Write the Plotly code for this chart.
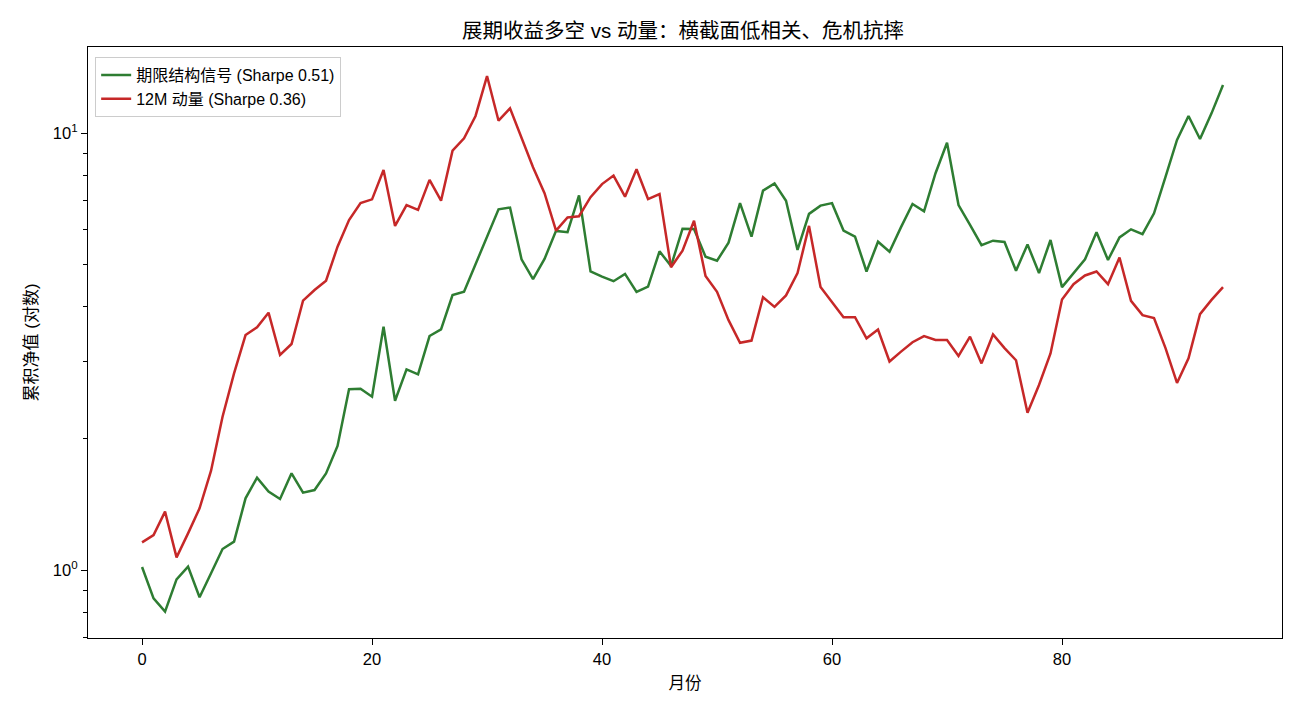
import plotly.graph_objects as go

months = list(range(95))

term_structure = [1.016, 0.861, 0.803, 0.952, 1.018, 0.866, 0.983, 1.117, 1.161, 1.459,
                  1.627, 1.511, 1.454, 1.664, 1.503, 1.524, 1.664, 1.922, 2.592, 2.60,
                  2.492, 3.604, 2.440, 2.879, 2.804, 3.431, 3.554, 4.259, 4.333, 5.014,
                  5.760, 6.69, 6.75, 5.14, 4.63, 5.15, 5.97, 5.93, 7.20, 4.82,
                  4.69, 4.58, 4.76, 4.33, 4.45, 5.36, 4.96, 6.04, 6.03, 5.21,
                  5.10, 5.61, 6.91, 5.79, 7.38, 7.67, 7.00, 5.40, 6.53, 6.82,
                  6.91, 5.98, 5.79, 4.82, 5.64, 5.35, 6.09, 6.88, 6.62, 8.09,
                  9.50, 6.84, 6.16, 5.54, 5.67, 5.63, 4.84, 5.56, 4.78, 5.69,
                  4.44, 4.78, 5.14, 5.93, 5.12, 5.77, 6.02, 5.87, 6.55, 7.94,
                  9.64, 10.94, 9.69, 11.09, 12.88]

momentum = [1.157, 1.202, 1.360, 1.069, 1.213, 1.384, 1.688, 2.243, 2.818, 3.449,
            3.593, 3.880, 3.105, 3.290, 4.133, 4.373, 4.592, 5.494, 6.32, 6.91,
            7.05, 8.23, 6.13, 6.84, 6.67, 7.81, 7.00, 9.11, 9.72, 10.94,
            13.50, 10.67, 11.39, 9.77, 8.35, 7.28, 5.98, 6.41, 6.45, 7.13,
            7.64, 7.99, 7.15, 8.26, 7.06, 7.25, 4.93, 5.38, 6.30, 4.71,
            4.33, 3.73, 3.31, 3.35, 4.21, 4.00, 4.25, 4.78, 6.13, 4.44,
            4.11, 3.79, 3.79, 3.39, 3.55, 3.00, 3.16, 3.32, 3.43, 3.36,
            3.36, 3.09, 3.42, 2.97, 3.46, 3.22, 3.02, 2.29, 2.65, 3.13,
            4.16, 4.51, 4.72, 4.82, 4.51, 5.19, 4.13, 3.83, 3.77, 3.22,
            2.68, 3.05, 3.85, 4.15, 4.44]

series_names = ["期限结构信号 (Sharpe 0.51)", "12M 动量 (Sharpe 0.36)"]
series_colors = ["#2e7d32", "#c62828"]

x_tick_vals = [0, 20, 40, 60, 80]
y_tick_vals = [1, 10]
y_tick_text = ["10<sup>0</sup>", "10<sup>1</sup>"]
y_minor_vals = [0.7, 0.8, 0.9, 2, 3, 4, 5, 6, 7, 8, 9]

FONT = "Liberation Sans, Arial, Noto Sans CJK SC, sans-serif"

fig = go.Figure()
for name, ys, col in zip(series_names, [term_structure, momentum], series_colors):
    fig.add_trace(go.Scatter(x=months, y=ys, mode="lines", name=name,
                             line=dict(color=col, width=2.5)))

fig.update_layout(
    width=1300, height=715,
    margin=dict(l=88, r=18, t=47, b=77),
    paper_bgcolor="white", plot_bgcolor="white",
    font=dict(family=FONT, color="black", size=16.5),
    title=dict(text="展期收益多空 vs 动量：横截面低相关、危机抗摔",
               x=0.5254, xanchor="center", y=0.957, yanchor="middle",
               font=dict(size=20.5, family=FONT)),
    legend=dict(x=0.006, y=0.983, xanchor="left", yanchor="top",
                bgcolor="rgba(255,255,255,0.8)", bordercolor="#cccccc", borderwidth=1,
                font=dict(size=16, family=FONT), tracegroupgap=2),
    showlegend=True,
)

fig.update_xaxes(
    range=[-4.7, 99.13], tickvals=x_tick_vals,
    showgrid=False, zeroline=False,
    showline=True, linecolor="black", linewidth=1.2, mirror=True,
    ticks="outside", ticklen=6, tickwidth=1.2, tickcolor="black",
    tickfont=dict(size=16.5),
    title=dict(text="月份", font=dict(size=16.5), standoff=10),
    automargin=False,
)

fig.update_yaxes(
    type="log", range=[-0.1556, 1.1968],
    tickvals=y_tick_vals, ticktext=y_tick_text,
    showgrid=False, zeroline=False,
    showline=True, linecolor="black", linewidth=1.2, mirror=True,
    ticks="outside", ticklen=6, tickwidth=1.2, tickcolor="black",
    tickfont=dict(size=16.5),
    minor=dict(tickmode="array", tickvals=y_minor_vals, ticks="outside",
               ticklen=3.5, tickwidth=1, tickcolor="black", showgrid=False),
    title=dict(text="累积净值 (对数)", font=dict(size=17), standoff=10),
    automargin=False,
)

fig.write_html("out.html")
